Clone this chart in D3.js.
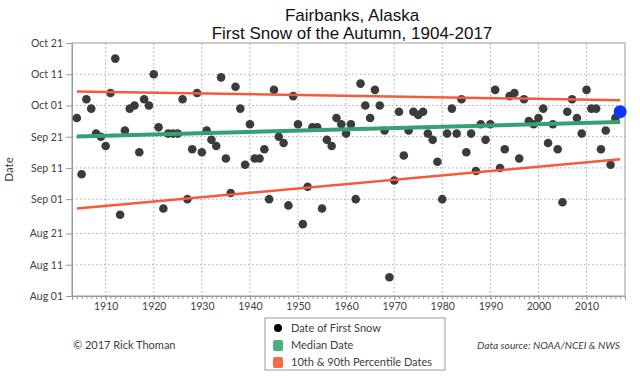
<!DOCTYPE html>
<html>
<head>
<meta charset="utf-8">
<script src="https://cdn.jsdelivr.net/npm/d3@7"></script>
<style>
  html, body { margin: 0; padding: 0; background: #fff; }
  svg { display: block; }
  .lbl { font-family: Lato, "Open Sans", sans-serif; fill: #404040; }
</style>
</head>
<body>
<div id="chart"></div>
<script>
// first snow dates, Fairbanks 1904-2017
const years = d3.range(1904, 2018)
const snowDates = [
  'Sep 27','Sep 09','Oct 03','Sep 30','Sep 22','Sep 21','Sep 18','Oct 05','Oct 16','Aug 27',
  'Sep 23','Sep 30','Oct 01','Sep 16','Oct 03','Oct 01','Oct 11','Sep 24','Aug 29','Sep 22',
  'Sep 22','Sep 22','Oct 03','Sep 01','Sep 17','Oct 05','Sep 16','Sep 23','Sep 20','Sep 18',
  'Oct 10','Sep 14','Sep 03','Oct 07','Sep 30','Sep 12','Sep 25','Sep 14','Sep 14','Sep 17',
  'Sep 01','Oct 06','Sep 21','Sep 19','Aug 30','Oct 04','Sep 25','Aug 24','Sep 05','Sep 24',
  'Sep 24','Aug 29','Sep 20','Sep 18','Sep 27','Sep 25','Sep 22','Sep 25','Sep 01','Oct 08',
  'Oct 01','Sep 27','Oct 06','Oct 01','Sep 23','Aug 07','Sep 07','Sep 29','Sep 15','Sep 23',
  'Sep 29','Sep 28','Sep 29','Sep 22','Sep 20','Sep 13','Sep 01','Sep 22','Sep 30','Sep 22',
  'Oct 03','Sep 16','Sep 22','Sep 10','Sep 25','Sep 20','Sep 25','Oct 06','Sep 11','Sep 17',
  'Oct 04','Oct 05','Sep 14','Oct 03','Sep 26','Sep 25','Sep 27','Sep 30','Sep 19','Sep 25',
  'Sep 17','Aug 31','Sep 29','Oct 03','Sep 27','Sep 22','Oct 06','Sep 30','Sep 30','Sep 17',
  'Sep 23','Sep 12','Sep 27','Sep 29'
]
const highlightYear = 2017

// trend lines: days after Aug 01 at first and last year
const trendYears = [1904, 2017]
const medianTrend = [51.1, 55.7]
const p90Trend = [65.5, 62.7]
const p10Trend = [28.0, 43.8]

const yTickLabels = ['Aug 01','Aug 11','Aug 21','Sep 01','Sep 11','Sep 21','Oct 01','Oct 11','Oct 21']
const xTickYears = d3.range(1910, 2011, 10)

const legendItems = ['Date of First Snow', 'Median Date', '10th & 90th Percentile Dates']

const W = 640, H = 384
const margin = { top: 43, right: 15, bottom: 88, left: 72 }
const green = '#36a072', red = '#f25c3c'

const parse = d3.timeParse('%b %d')
const aug1 = parse('Aug 01')
const dayToDate = d => new Date(aug1.getTime() + d * 864e5)

const svg = d3.select('#chart').append('svg').attr('width', W).attr('height', H)

const x = d3.scaleLinear().domain([1903, 2018]).range([margin.left, W - margin.right])
const y = d3.scaleTime().domain([aug1, parse('Oct 21')]).range([H - margin.bottom, margin.top])

// title
const title = svg.append('g').attr('font-family', '"Liberation Sans", Arial, sans-serif')
  .attr('font-size', 17).attr('fill', '#111').attr('text-anchor', 'middle')
title.append('text').attr('x', 352).attr('y', 21).text('Fairbanks, Alaska')
title.append('text').attr('x', 352).attr('y', 39).text('First Snow of the Autumn, 1904-2017')

// gridlines
const yTicks = yTickLabels.map(parse)
svg.append('g').selectAll('line').data(yTicks.slice(1, -1)).join('line')
  .attr('x1', margin.left).attr('x2', W - margin.right)
  .attr('y1', d => y(d)).attr('y2', d => y(d))
  .attr('stroke', '#a8a8a8').attr('stroke-dasharray', '1.5,2.5')
svg.append('g').selectAll('line').data(xTickYears).join('line')
  .attr('x1', d => x(d)).attr('x2', d => x(d))
  .attr('y1', margin.top).attr('y2', H - margin.bottom)
  .attr('stroke', '#a8a8a8').attr('stroke-dasharray', '1.5,2.5')

// frame
svg.append('rect')
  .attr('x', margin.left).attr('y', margin.top)
  .attr('width', W - margin.left - margin.right).attr('height', H - margin.top - margin.bottom)
  .attr('fill', 'none').attr('stroke', '#999')

// y axis
const yAxis = svg.append('g').attr('transform', `translate(${margin.left},0)`)
  .call(d3.axisLeft(y).tickValues(yTicks).tickFormat(d3.timeFormat('%b %d')).tickSize(6).tickPadding(3))
yAxis.select('.domain').attr('stroke', '#999')
yAxis.selectAll('line').attr('stroke', '#999')
yAxis.selectAll('text').attr('class', 'lbl').attr('font-size', 10.5)

// x axis, minor yearly ticks + decade labels
const xAxisMinor = svg.append('g').attr('transform', `translate(0,${H - margin.bottom})`)
  .call(d3.axisBottom(x).tickValues(d3.range(1904, 2018)).tickFormat('').tickSize(3))
xAxisMinor.select('.domain').remove()
xAxisMinor.selectAll('line').attr('stroke', '#999')
const xAxis = svg.append('g').attr('transform', `translate(0,${H - margin.bottom})`)
  .call(d3.axisBottom(x).tickValues(xTickYears).tickFormat(d3.format('d')).tickSize(4).tickPadding(3))
xAxis.select('.domain').attr('stroke', '#999')
xAxis.selectAll('line').attr('stroke', '#999')
xAxis.selectAll('text').attr('class', 'lbl').attr('font-size', 10.5)

svg.append('text').attr('class', 'lbl').attr('font-size', 11.5)
  .attr('transform', `translate(13,${(margin.top + H - margin.bottom) / 2}) rotate(-90)`)
  .attr('text-anchor', 'middle').text('Date')

// points
const points = years.map((yr, i) => ({ year: yr, date: parse(snowDates[i]) }))
svg.append('g').selectAll('circle').data(points.filter(d => d.year !== highlightYear)).join('circle')
  .attr('cx', d => x(d.year)).attr('cy', d => y(d.date)).attr('r', 4.3)
  .attr('fill', '#3b3b3b')

// trend lines
const line = d3.line().x(d => x(d[0])).y(d => y(dayToDate(d[1])))
const trend = vals => trendYears.map((yr, i) => [yr, vals[i]])
svg.append('path').datum(trend(p90Trend)).attr('d', line).attr('stroke', red).attr('stroke-width', 2.5).attr('fill', 'none')
svg.append('path').datum(trend(p10Trend)).attr('d', line).attr('stroke', red).attr('stroke-width', 2.5).attr('fill', 'none')
svg.append('path').datum(trend(medianTrend)).attr('d', line).attr('stroke', green).attr('stroke-width', 4).attr('fill', 'none')

// latest year
const last = points.find(d => d.year === highlightYear)
svg.append('circle').attr('cx', x(last.year)).attr('cy', y(last.date)).attr('r', 6.5).attr('fill', '#0a36ff')

// legend
const lg = svg.append('g').attr('transform', 'translate(265,318)')
lg.append('rect').attr('width', 180).attr('height', 52).attr('fill', '#fff').attr('stroke', '#999')
const rows = lg.selectAll('g').data(legendItems).join('g')
  .attr('transform', (d, i) => `translate(0,${10 + i * 17})`)
rows.filter((d, i) => i === 0).append('circle').attr('cx', 13).attr('r', 4).attr('fill', '#000')
rows.filter((d, i) => i > 0).append('rect').attr('x', 8).attr('y', -5).attr('width', 10).attr('height', 11).attr('rx', 2)
  .attr('fill', (d, i) => i === 0 ? '#4caf83' : '#f26b4a')
rows.append('text').attr('class', 'lbl').attr('x', 26).attr('dy', '0.35em').attr('font-size', 11).attr('fill', '#222').text(d => d)

svg.append('text').attr('class', 'lbl').attr('x', 73).attr('y', 349).attr('font-size', 11).text('© 2017 Rick Thoman')
svg.append('text').attr('class', 'lbl').attr('x', 620).attr('y', 349).attr('font-size', 10.2)
  .attr('font-style', 'italic').attr('text-anchor', 'end').text('Data source: NOAA/NCEI & NWS')
</script>
</body>
</html>
